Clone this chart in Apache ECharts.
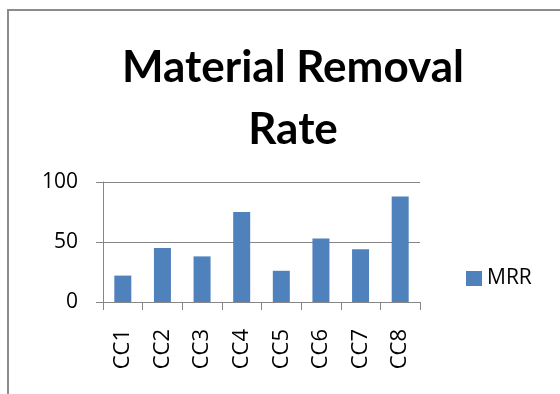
<!DOCTYPE html>
<html>
<head>
<meta charset="utf-8">
<script src="https://cdn.jsdelivr.net/npm/echarts@6/dist/echarts.min.js"></script>
<style>
  html, body { margin: 0; padding: 0; background: #ffffff; }
  #chart { width: 560px; height: 394px; }
</style>
</head>
<body>
<div id="chart"></div>
<script>
// Material removal rate per cutting condition
const categories = ['CC1', 'CC2', 'CC3', 'CC4', 'CC5', 'CC6', 'CC7', 'CC8'];
const mrrValues = [22, 45, 38, 75, 26, 53, 44, 88];
const seriesName = 'MRR';
const yTicks = { min: 0, max: 100, interval: 50 };

const axisGrey = '#868686';
const barBlue = '#4F81BD';
const font = 'Open Sans, Liberation Sans, sans-serif';
const titleFont = 'Lato, Open Sans, sans-serif';

const chart = echarts.init(document.getElementById('chart'), null, { renderer: 'canvas' });

chart.setOption({
  backgroundColor: '#ffffff',
  animation: false,
  graphic: [{
    type: 'rect',
    shape: { x: 8, y: 10, width: 700, height: 600 },
    style: { fill: 'none', stroke: '#8c8c8c', lineWidth: 2 },
    silent: true
  }],
  title: {
    text: 'Material Removal\nRate',
    top: 32,
    left: 288,
    textAlign: 'center',
    textStyle: {
      fontFamily: titleFont,
      fontWeight: 'bold',
      fontSize: 44,
      lineHeight: 62,
      color: '#000000'
    }
  },
  legend: {
    data: [seriesName],
    left: 461,
    top: 263,
    itemWidth: 16,
    itemHeight: 15,
    itemGap: 8,
    icon: 'rect',
    textStyle: { fontFamily: font, fontSize: 21, color: '#000000' }
  },
  grid: { left: 103, right: 140, top: 182, bottom: 92, containLabel: false },
  xAxis: {
    type: 'category',
    data: categories,
    boundaryGap: true,
    axisLine: { show: true, lineStyle: { color: axisGrey, width: 1 } },
    axisTick: { show: true, alignWithLabel: false, length: 8, lineStyle: { color: axisGrey } },
    axisLabel: {
      rotate: 90,
      margin: 27,
      fontFamily: font,
      fontSize: 22,
      color: '#000000'
    },
    splitLine: { show: false }
  },
  yAxis: {
    type: 'value',
    min: yTicks.min,
    max: yTicks.max,
    interval: yTicks.interval,
    axisLine: { show: true, lineStyle: { color: axisGrey, width: 1 } },
    axisTick: { show: true, inside: false, length: 7, lineStyle: { color: axisGrey } },
    axisLabel: {
      margin: 25,
      fontFamily: font,
      fontSize: 21,
      color: '#000000'
    },
    splitLine: { show: true, lineStyle: { color: axisGrey, width: 1 } }
  },
  series: [{
    name: seriesName,
    type: 'bar',
    data: mrrValues,
    barWidth: 17,
    itemStyle: { color: barBlue }
  }]
});
</script>
</body>
</html>
